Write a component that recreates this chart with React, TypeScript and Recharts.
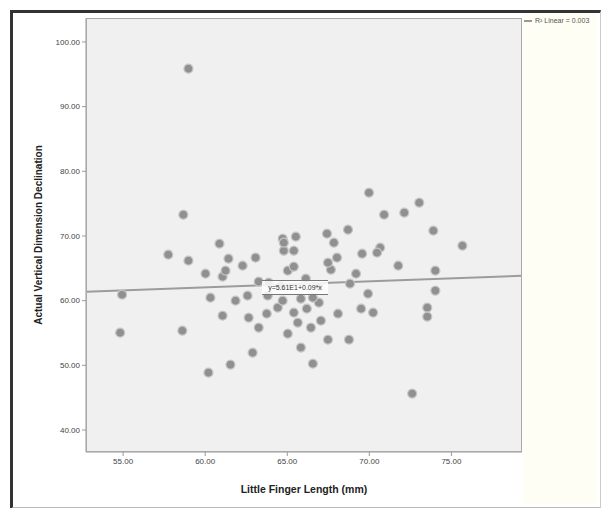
import { ScatterChart, Scatter, XAxis, YAxis, ZAxis, CartesianGrid } from 'recharts';

// little finger length (mm) against actual vertical dimension
const LENGTH_MM = [
  58.98, 58.67, 60.87, 57.75, 58.98, 61.42, 63.07, 62.28, 60.02, 61.06,
  61.24, 64.72, 64.79, 65.03, 63.26, 54.94, 54.82, 58.61, 60.32, 61.85,
  62.58, 63.81, 61.06, 62.65, 63.75, 63.26, 65.03, 62.89, 61.54, 60.2,
  65.83, 66.56, 64.42, 69.98, 73.04, 70.9, 72.13, 68.7, 73.9, 67.42,
  65.52, 67.84, 75.67, 70.66, 70.47, 69.56, 68.03, 71.76, 74.02, 67.66,
  69.19, 65.4, 68.82, 69.92, 74.02, 69.5, 70.23, 68.09, 73.53, 73.53,
  67.05, 66.19, 66.93, 67.48, 68.76, 65.64, 66.44, 72.61, 64.79, 63.87,
  64.6, 66.13, 66.93, 64.72, 65.83, 66.56, 65.4, 67.48, 65.4,
];
const VERTICAL_DIM = [
  95.86, 73.29, 68.81, 67.11, 66.18, 66.49, 66.65, 65.41, 64.17, 63.71,
  64.64, 69.58, 67.73, 64.64, 62.94, 60.93, 55.05, 55.36, 60.46, 60.0,
  60.77, 60.77, 57.68, 57.37, 57.99, 55.83, 54.9, 51.96, 50.11, 48.87,
  52.74, 50.26, 58.92, 76.69, 75.15, 73.29, 73.6, 70.97, 70.82, 70.36,
  69.89, 68.96, 68.5, 68.19, 67.42, 67.26, 66.65, 65.41, 64.64, 64.79,
  64.17, 67.73, 62.63, 61.08, 61.55, 58.76, 58.15, 57.99, 58.92, 57.53,
  56.91, 58.76, 59.69, 53.97, 53.97, 56.6, 55.83, 45.63, 68.96, 62.78,
  62.32, 63.4, 62.16, 60.0, 60.31, 60.46, 58.15, 65.87, 65.26,
];

// linear fit, ends of the drawn line
const FIT_X = [52.74, 79.3];
const FIT_Y = [61.36, 63.86];

const X_TICKS = [55, 60, 65, 70, 75];
const Y_TICKS = [40, 50, 60, 70, 80, 90, 100];

const points = LENGTH_MM.map((x, i) => ({ x, y: VERTICAL_DIM[i] }));
const fitLine = FIT_X.map((x, i) => ({ x, y: FIT_Y[i] }));

const tickStyle = { fontSize: 8, fill: '#444', fontFamily: 'Arial, "Liberation Sans", sans-serif' };

export default function App() {
  return (
    <div style={{ position: 'absolute', left: 0, top: 0, width: 603, height: 508, background: '#fff', overflow: 'hidden', fontFamily: 'Arial, "Liberation Sans", sans-serif' }}>
      <div style={{ position: 'absolute', left: 10, top: 10, width: 587, height: 494, borderTop: '3px solid #333', borderLeft: '3px solid #333', borderRight: '1px solid #ccc', borderBottom: '2px solid #bbb' }} />
      <div style={{ position: 'absolute', left: 523, top: 13, width: 74, height: 491, background: '#fefef4' }} />
      <div style={{ position: 'absolute', left: 0, top: 0 }}>
        <ScatterChart width={603} height={508} margin={{ top: 18, right: 81, bottom: 26, left: 44 }}>
          <CartesianGrid fill="#f0f0f0" horizontal={false} vertical={false} />
          <XAxis
            type="number"
            dataKey="x"
            domain={[52.74, 79.3]}
            ticks={X_TICKS}
            tickFormatter={(v: number) => v.toFixed(2)}
            tick={tickStyle}
            tickSize={4}
            height={30}
            stroke="#999"
            allowDataOverflow
            label={{ value: 'Little Finger Length (mm)', position: 'insideBottom', offset: -11, style: { fontSize: 10.5, fontWeight: 'bold', fill: '#222' } }}
          />
          <YAxis
            type="number"
            dataKey="y"
            domain={[36.6, 103.7]}
            ticks={Y_TICKS}
            tickFormatter={(v: number) => v.toFixed(2)}
            tick={tickStyle}
            tickSize={4}
            width={42}
            stroke="#999"
            allowDataOverflow
            label={{ value: 'Actual Vertical Dimension Declination', angle: -90, position: 'insideLeft', offset: -6, style: { textAnchor: 'middle', fontSize: 10, fontWeight: 'bold', fill: '#222' } }}
          />
          <ZAxis range={[44, 44]} />
          <Scatter data={fitLine} line={{ stroke: '#9c9c9c', strokeWidth: 2 }} shape={() => <g />} isAnimationActive={false} legendType="none" />
          <Scatter data={points} fill="#909090" stroke="#c6c6c6" strokeWidth={1.2} isAnimationActive={false} />
        </ScatterChart>
      </div>
      <div style={{ position: 'absolute', left: 86, top: 18, width: 434, height: 432, border: '1px solid #a8a8a8', pointerEvents: 'none' }} />
      <div style={{ position: 'absolute', left: 262, top: 280, width: 66, height: 13, background: 'rgba(255,255,255,0.85)', borderTop: '1px solid #777', borderBottom: '1px solid #777', fontSize: 7, lineHeight: '13px', textAlign: 'center', color: '#333' }}>
        y=5.61E1+0.09*x
      </div>
      <div style={{ position: 'absolute', left: 524, top: 17, fontSize: 7, color: '#555', whiteSpace: 'nowrap', display: 'flex', alignItems: 'center' }}>
        <span style={{ display: 'inline-block', width: 8, height: 2, background: '#999', marginRight: 3 }} />
        R² Linear = 0.003
      </div>
    </div>
  );
}
